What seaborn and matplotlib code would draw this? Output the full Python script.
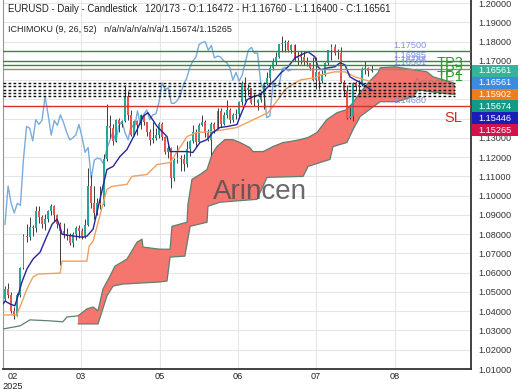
import numpy as np
import pandas as pd
import seaborn as sns
import matplotlib.pyplot as plt
from matplotlib.patches import Rectangle
from matplotlib.transforms import ScaledTranslation

# daily candles, 120 bars (open of each bar = previous close)
first_open = 1.0465
closes = [1.0515, 1.0485, 1.0400, 1.0375, 1.0485, 1.0625, 1.0790, 1.0785, 1.0835, 1.0830,
          1.0920, 1.0890, 1.0855, 1.0880, 1.0920, 1.0945, 1.0900, 1.0855, 1.0815, 1.0800,
          1.0790, 1.0752, 1.0800, 1.0830, 1.0815, 1.0790, 1.0850, 1.1050, 1.0960, 1.0910,
          1.0960, 1.0950, 1.1190, 1.1360, 1.1350, 1.1285, 1.1395, 1.1370, 1.1390, 1.1515,
          1.1420, 1.1315, 1.1390, 1.1365, 1.1420, 1.1380, 1.1330, 1.1290, 1.1300, 1.1315,
          1.1370, 1.1305, 1.1225, 1.1250, 1.1090, 1.1185, 1.1195, 1.1190, 1.1165, 1.1240,
          1.1285, 1.1330, 1.1280, 1.1365, 1.1385, 1.1325, 1.1290, 1.1370, 1.1345, 1.1440,
          1.1370, 1.1420, 1.1445, 1.1395, 1.1420, 1.1425, 1.1485, 1.1585, 1.1550, 1.1560,
          1.1480, 1.1480, 1.1495, 1.1525, 1.1580, 1.1610, 1.1665, 1.1700, 1.1720, 1.1785,
          1.1795, 1.1800, 1.1755, 1.1780, 1.1715, 1.1725, 1.1720, 1.1700, 1.1690, 1.1665,
          1.1600, 1.1640, 1.1595, 1.1625, 1.1690, 1.1755, 1.1770, 1.1740, 1.1740, 1.1590,
          1.1545, 1.1405, 1.1415, 1.1585, 1.1570, 1.1575, 1.1660, 1.1665, 1.16472, 1.16561]
highs = [1.0530, 1.0545, 1.0500, 1.0420, 1.0495, 1.0630, 1.0800, 1.0855, 1.0890, 1.0850,
         1.0945, 1.0945, 1.0900, 1.0905, 1.0925, 1.0955, 1.0950, 1.0905, 1.0865, 1.0860,
         1.0830, 1.0805, 1.0810, 1.0840, 1.0850, 1.0830, 1.0880, 1.1145, 1.1105, 1.1050,
         1.0990, 1.1050, 1.1215, 1.1475, 1.1420, 1.1370, 1.1400, 1.1405, 1.1395, 1.1575,
         1.1545, 1.1445, 1.1395, 1.1395, 1.1425, 1.1425, 1.1385, 1.1345, 1.1380, 1.1350,
         1.1380, 1.1380, 1.1310, 1.1265, 1.1255, 1.1195, 1.1265, 1.1210, 1.1215, 1.1285,
         1.1290, 1.1365, 1.1345, 1.1375, 1.1420, 1.1395, 1.1345, 1.1385, 1.1385, 1.1455,
         1.1455, 1.1435, 1.1495, 1.1455, 1.1430, 1.1450, 1.1490, 1.1595, 1.1615, 1.1580,
         1.1560, 1.1530, 1.1500, 1.1545, 1.1590, 1.1640, 1.1680, 1.1715, 1.1745, 1.1790,
         1.1830, 1.1810, 1.1810, 1.1790, 1.1790, 1.1750, 1.1750, 1.1750, 1.1720, 1.1690,
         1.1720, 1.1720, 1.1645, 1.1655, 1.1695, 1.1755, 1.1790, 1.1790, 1.1760, 1.1770,
         1.1600, 1.1575, 1.1460, 1.1590, 1.1595, 1.1600, 1.1670, 1.1700, 1.1670, 1.16760]
lows = [1.0455, 1.0470, 1.0390, 1.0360, 1.0375, 1.0475, 1.0620, 1.0760, 1.0770, 1.0790,
        1.0810, 1.0860, 1.0830, 1.0820, 1.0865, 1.0900, 1.0870, 1.0830, 1.0640, 1.0780,
        1.0770, 1.0745, 1.0735, 1.0770, 1.0780, 1.0775, 1.0780, 1.0840, 1.0935, 1.0880,
        1.0900, 1.0930, 1.0945, 1.1180, 1.1300, 1.1265, 1.1280, 1.1330, 1.1355, 1.1385,
        1.1395, 1.1310, 1.1310, 1.1315, 1.1345, 1.1365, 1.1310, 1.1265, 1.1275, 1.1290,
        1.1300, 1.1290, 1.1215, 1.1195, 1.1040, 1.1075, 1.1170, 1.1130, 1.1130, 1.1150,
        1.1205, 1.1275, 1.1255, 1.1275, 1.1360, 1.1305, 1.1285, 1.1210, 1.1325, 1.1345,
        1.1355, 1.1365, 1.1405, 1.1375, 1.1385, 1.1400, 1.1405, 1.1470, 1.1490, 1.1525,
        1.1475, 1.1465, 1.1445, 1.1485, 1.1450, 1.1575, 1.1590, 1.1655, 1.1680, 1.1715,
        1.1745, 1.1745, 1.1745, 1.1740, 1.1700, 1.1680, 1.1685, 1.1680, 1.1675, 1.1650,
        1.1595, 1.1555, 1.1555, 1.1585, 1.1620, 1.1680, 1.1705, 1.1730, 1.1710, 1.1585,
        1.1520, 1.1400, 1.1400, 1.1390, 1.1545, 1.1530, 1.1570, 1.1630, 1.1620, 1.16400]

# ichimoku lines (bar position, price)
tenkan_x = [-0.6, 0.0, 1.6, 3.2, 4.2, 5.5, 7.1, 9.1, 11.4, 13.6, 15.3, 16.9, 17.9, 18.5, 20.1,
            25.3, 26.6, 28.6, 31.8, 33.1, 35.1, 37.3, 39.6, 42.9, 44.8, 46.4, 49.4, 52.6, 53.6,
            55.8, 59.1, 61.0, 63.3, 65.6, 67.5, 69.8, 72.1, 75.3, 76.3, 78.6, 80.5, 82.8, 85.4,
            87.7, 89.6, 91.9, 94.2, 96.1, 98.4, 100.6, 101.6, 102.6, 104.9, 107.1, 108.8, 110.4,
            112.0, 113.6, 115.6, 117.9, 119.2]
tenkan_y = [1.0438, 1.0453, 1.0438, 1.0428, 1.0479, 1.0552, 1.0619, 1.0671, 1.0707, 1.0790,
            1.0852, 1.0878, 1.0836, 1.0800, 1.0795, 1.0784, 1.0790, 1.0826, 1.1048, 1.1136,
            1.1152, 1.1203, 1.1240, 1.1343, 1.1411, 1.1431, 1.1359, 1.1307, 1.1229, 1.1229,
            1.1229, 1.1224, 1.1276, 1.1291, 1.1328, 1.1354, 1.1359, 1.1369, 1.1411, 1.1498,
            1.1514, 1.1524, 1.1566, 1.1602, 1.1638, 1.1669, 1.1716, 1.1731, 1.1747, 1.1721,
            1.1669, 1.1654, 1.1664, 1.1669, 1.1690, 1.1679, 1.1617, 1.1602, 1.1586, 1.1560,
            1.1545]
kijun_x = [-0.6, 3.9, 4.2, 5.5, 7.1, 9.1, 10.7, 17.9, 18.5, 26.6, 27.3, 28.6, 33.1, 34.7, 39.6,
           41.2, 46.1, 49.4, 53.6, 59.1, 62.3, 67.5, 75.3, 78.6, 82.8, 85.4, 88.6, 90.9, 94.2,
           96.1, 100.6, 102.6, 107.1, 110.4, 113.6, 119.2]
kijun_y = [1.0381, 1.0381, 1.0397, 1.0448, 1.0515, 1.0578, 1.0593, 1.0598, 1.0660, 1.0660,
           1.0738, 1.0764, 1.1033, 1.1048, 1.1059, 1.1100, 1.1110, 1.1162, 1.1172, 1.1307,
           1.1328, 1.1333, 1.1354, 1.1379, 1.1411, 1.1431, 1.1498, 1.1550, 1.1586, 1.1602,
           1.1612, 1.1628, 1.1643, 1.1643, 1.1617, 1.1590]
span_a_x = [-0.6, 4.9, 8.1, 14.6, 18.8, 20.1, 23.7, 26.6, 28.6, 30.2, 31.8, 34.1, 35.7, 39.6,
            42.9, 44.5, 44.8, 50.3, 53.6, 54.2, 59.1, 59.4, 60.7, 63.3, 65.6, 67.2, 68.8, 71.4,
            74.0, 76.3, 79.5, 80.5, 83.8, 87.0, 90.3, 92.5, 95.8, 98.4, 101.3, 104.5, 107.8,
            111.0, 113.0, 115.3, 117.9, 121.1, 121.8, 126.6, 137.0, 139.0, 145.5, 146.1]
span_a_y = [1.0308, 1.0324, 1.0355, 1.0350, 1.0345, 1.0370, 1.0376, 1.0412, 1.0422, 1.0402,
            1.0515, 1.0583, 1.0634, 1.0671, 1.0759, 1.0774, 1.0733, 1.0722, 1.0722, 1.0841,
            1.0862, 1.0955, 1.1085, 1.1110, 1.1136, 1.1214, 1.1255, 1.1291, 1.1291, 1.1276,
            1.1250, 1.1229, 1.1229, 1.1255, 1.1276, 1.1281, 1.1291, 1.1302, 1.1328, 1.1395,
            1.1431, 1.1447, 1.1483, 1.1535, 1.1586, 1.1638, 1.1664, 1.1669, 1.1643, 1.1617,
            1.1586, 1.1560]
span_b_x = [23.7, 30.2, 33.1, 35.1, 38.3, 50.3, 52.6, 53.6, 58.4, 60.1, 65.6, 65.9, 69.8, 81.8,
            85.1, 96.8, 98.4, 102.3, 105.5, 106.5, 111.0, 113.0, 115.3, 121.8, 127.3, 132.5,
            134.1, 138.0, 146.1]
span_b_y = [1.0334, 1.0334, 1.0479, 1.0531, 1.0541, 1.0552, 1.0557, 1.0681, 1.0686, 1.0841,
            1.0862, 1.0945, 1.0966, 1.0981, 1.1095, 1.1100, 1.1152, 1.1172, 1.1188, 1.1255,
            1.1276, 1.1343, 1.1411, 1.1488, 1.1488, 1.1514, 1.1550, 1.1540, 1.1525]

tick_pos = [-0.65, 24.7, 50.3, 75.6, 101.0, 126.6]
tick_labels = ['02\n2025', '03', '05', '06', '07', '08']

tp_levels = [1.17500, 1.16985, 1.16788]
tp_names = ['TP3', 'TP2', 'TP1']
tp_label_y = [1.1690, 1.1647, 1.1618]
sl_level = 1.14680
last_close = 1.16561
dotted_levels = [1.1587, 1.1568, 1.1550, 1.1533, 1.1519]
badge_values = ['1.16561', '1.16561', '1.15902', '1.15674', '1.15446', '1.15265']
badge_colors = ['#35b39b', '#3b8be0', '#f07c1c', '#139a86', '#1c1cb8', '#d3124d']

sns.set_theme(style='white')
plt.rcParams['font.family'] = ['Liberation Sans', 'DejaVu Sans']

W, H = 520, 390
fig = plt.figure(figsize=(W / 100, H / 100), dpi=100)
ax = fig.add_axes([3 / W, 1 - 369 / H, 468 / W, 369 / H])
ax.set_xlim(-0.65, 151.3)
ax.set_ylim(1.0107, 1.2016)

df = pd.DataFrame({'close': closes, 'high': highs, 'low': lows})
df['open'] = [first_open] + closes[:-1]
df['bar'] = np.arange(len(df))
up = df['close'] >= df['open']

# kumo
n0 = span_a_x.index(span_b_x[0])
ax.fill(np.r_[span_a_x[n0:], span_b_x[::-1]], np.r_[span_a_y[n0:], span_b_y[::-1]],
        color='#f4766e', lw=0, zorder=2)
sns.lineplot(x=span_a_x, y=span_a_y, ax=ax, color='#5f806f', lw=0.9, estimator=None, sort=False, zorder=3)
sns.lineplot(x=span_b_x, y=span_b_y, ax=ax, color='#5f806f', lw=0.9, estimator=None, sort=False, zorder=3)

# chikou = close shifted back 26 bars
sns.lineplot(x=df['bar'][:-26], y=df['close'][26:].values, ax=ax, color='#78acdf', lw=1,
             estimator=None, sort=False, zorder=3)

ax.vlines(df['bar'], df['low'], df['high'], color='#3c3c3c', lw=0.7, zorder=4)
ax.bar(df['bar'], df['close'] - df['open'], bottom=df['open'], width=0.62,
       color=np.where(up, '#26a69a', '#ef5350'), lw=0, zorder=5)

sns.lineplot(x=kijun_x, y=kijun_y, ax=ax, color='#f0a060', lw=1, estimator=None, sort=False, zorder=6)
sns.lineplot(x=tenkan_x, y=tenkan_y, ax=ax, color='#25259a', lw=1, estimator=None, sort=False, zorder=6)

for lv in tp_levels:
    ax.axhline(lv, color='#2f8f2f', lw=1, zorder=7)
ax.axhline(last_close, color='#8a8a8a', lw=1, zorder=7)
ax.axhline(sl_level, color='#d63030', lw=1, zorder=7)
ax.hlines(dotted_levels, -0.65, 146, colors='#111111', linestyles=(0, (2, 1.6)), lw=1, zorder=7)

for lv, yy in zip(tp_levels + [last_close], [1.1778, 1.1727, 1.1708, 1.1690]):
    ax.text(131.5, yy, f'{lv:.5f}', color='#8090e0', fontsize=6.6, ha='center', va='center', zorder=8)
ax.text(131.5, 1.1494, f'{sl_level:.5f}', color='#8090e0', fontsize=6.6, ha='center', va='center', zorder=8)
for name, yy in zip(tp_names, tp_label_y):
    ax.text(140.3, yy, name, color='#2f9a2f', fontsize=10.5, ha='left', va='center', zorder=8)
ax.text(142.7, 1.1405, 'SL', color='#d42a2a', fontsize=10.5, ha='left', va='center', zorder=8)

ax.text(82.8, 1.1018, 'Arincen', color='#505050', alpha=0.85, fontsize=20, ha='center', va='center', zorder=8)
ax.text(139.5, 1.1581, 'Arincen', color='#606060', alpha=0.35, fontsize=9, ha='center', va='center', zorder=8)

yt = np.round(np.arange(1.01, 1.2001, 0.01), 2)
ax.set_yticks(yt)
ax.set_yticklabels([f'{v:.5f}' for v in yt])
ax.yaxis.tick_right()
ax.set_xticks(tick_pos)
ax.set_xticklabels(tick_labels)
ax.tick_params(axis='y', length=0, pad=5.5, labelsize=6.6, labelcolor='#333333')
ax.tick_params(axis='x', length=0, pad=2, labelsize=6.6, labelcolor='#222222')
ax.grid(True, color='#e6e6e6', lw=0.8)
ax.set_axisbelow(True)
ax.set_xlabel('')
ax.set_ylabel('')
ax.spines['top'].set_visible(False)
ax.spines['left'].set_color('#999999')
ax.spines['left'].set_linewidth(0.8)
for s in ['bottom', 'right']:
    ax.spines[s].set_color('#333333')
    ax.spines[s].set_linewidth(1.3)

# the first month label sits a little right of its grid line
first_tick = ax.xaxis.get_major_ticks()[0]
first_tick.label1.set_transform(first_tick.label1.get_transform()
                                + ScaledTranslation(0.10, 0, fig.dpi_scale_trans))

# last-value badges on the price scale
for k, (val, col) in enumerate(zip(badge_values, badge_colors)):
    yc = 70.7 + k * 11.9
    fig.add_artist(Rectangle((472 / W, 1 - (yc + 6) / H), 46 / W, 12 / H,
                             transform=fig.transFigure, color=col, lw=0, zorder=10))
    fig.text(495 / W, 1 - yc / H, val, color='white', fontsize=6.6, ha='center', va='center', zorder=11)

fig.text(8 / W, 1 - 9 / H, 'EURUSD - Daily - Candlestick   120/173 - O:1.16472 - H:1.16760 - L:1.16400 - C:1.16561',
         fontsize=6.9, color='#222222', va='center')
fig.text(8 / W, 1 - 29 / H, 'ICHIMOKU (9, 26, 52)   n/a/n/a/n/a/n/a/1.15674/1.15265',
         fontsize=6.5, color='#222222', va='center')

fig.savefig('out.png', dpi=100)
